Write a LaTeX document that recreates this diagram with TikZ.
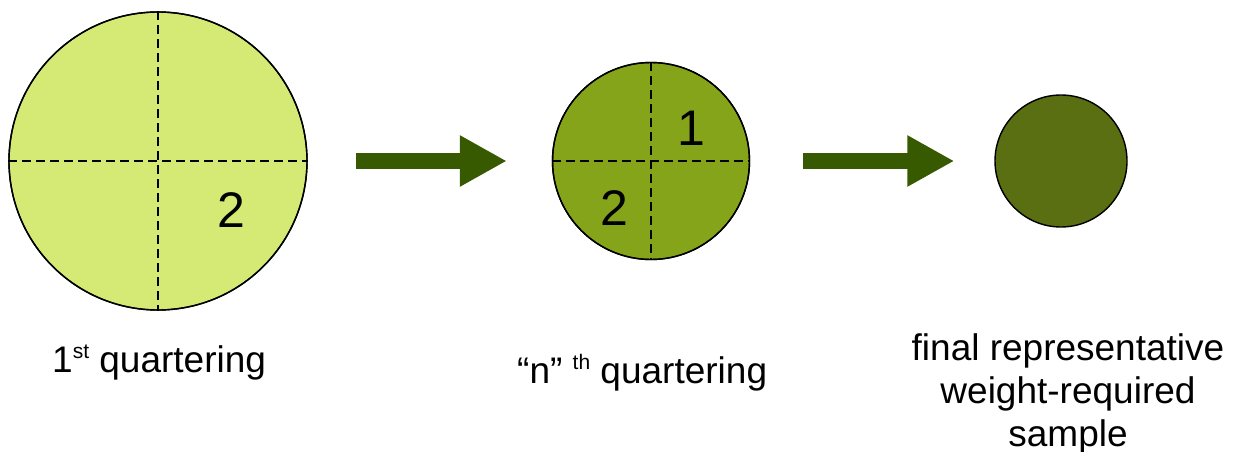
\documentclass[tikz,border=0pt]{standalone}
\usepackage{fontspec}
\setmainfont{Liberation Sans}
\usetikzlibrary{arrows.meta}
\definecolor{lightlime}{HTML}{D4EA74}
\definecolor{midgreen}{HTML}{86A41A}
\definecolor{darkolive}{HTML}{5A6E12}
\definecolor{arrowgreen}{HTML}{375A00}
\newcommand\supx[1]{\raisebox{14pt}{\fontsize{21}{22}\selectfont #1}}
\tikzset{
  disc/.style={circle, draw=black, line width=1.4pt, inner sep=0pt},
  cut/.style={dashed, dash pattern=on 9pt off 5pt, line width=1.3pt},
  bigarrow/.style={arrowgreen, line width=16pt, -{Triangle[length=47pt,width=48pt]}},
  num/.style={font=\fontsize{50}{50}\selectfont, inner sep=0pt},
  caption/.style={font=\fontsize{37}{43}\selectfont, inner sep=0pt}
}
\begin{document}
\begin{tikzpicture}[x=1pt,y=-1pt]
\useasboundingbox (0,0) rectangle (1234,452);
% circles
\node[disc, fill=lightlime, minimum size=298pt] (c1) at (158,161) {};
\node[disc, fill=midgreen, minimum size=197pt] (c2) at (651,161) {};
\node[disc, fill=darkolive, minimum size=132pt] (c3) at (1061,161) {};
% cuts
\draw[cut] (c1.west) -- (c1.east);
\draw[cut] (c1.north) -- (c1.south);
\draw[cut] (c2.west) -- (c2.east);
\draw[cut] (c2.north) -- (c2.south);
% redraw outlines on top
\node[disc, minimum size=298pt] at (c1) {};
\node[disc, minimum size=197pt] at (c2) {};
% numbers
\node[num] (n12) at (231,210) {2};
\node[num] (n21) at (691,128) {1};
\node[num] (n22) at (614,208) {2};
% arrows
\draw[bigarrow, shorten <=48pt, shorten >=45pt] (c1.east) -- (c2.west);
\draw[bigarrow, shorten <=53pt, shorten >=40pt] (c2.east) -- (c3.west);
% captions
\node[caption, anchor=base west] (t1) at (52,372) {1\supx{st} quartering};
\node[caption, anchor=base west] (t2) at (517,383) {“n” \supx{th} quartering};
\node[caption, align=center, anchor=base] (t3) at (1068,446) {final representative\\weight-required\\sample};
\end{tikzpicture}
\end{document}
